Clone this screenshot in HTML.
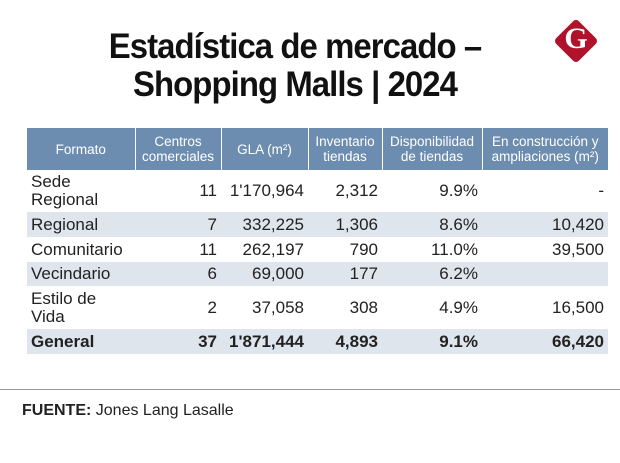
<!DOCTYPE html>
<html><head><meta charset="utf-8"><style>
body{margin:0;width:620px;height:463px;background:#fff;font-family:"Liberation Sans",sans-serif;position:relative;overflow:hidden}
#title{position:absolute;left:40px;top:28px;width:510px;text-align:center;font-weight:bold;font-size:35px;line-height:38px;color:#111;letter-spacing:-1px;transform:scaleX(0.94)}
#logo{position:absolute;left:560px;top:25px;width:32px;height:32px;background:#b0112b;transform:rotate(45deg);border-radius:4px}
#logo-g{position:absolute;left:558px;top:22px;width:36px;text-align:center;font:bold 30px "Liberation Serif",serif;color:#fff}
table{position:absolute;left:27px;top:128px;border-collapse:collapse;font-size:17px;color:#222}
th{background:#6d8db0;color:#fff;font-weight:normal;font-size:13.5px;line-height:15px;height:42px;padding:0;border-left:1px solid #fff}
th:first-child{border-left:none}
td{padding:0 4px;text-align:right;line-height:18px}
td:first-child{text-align:left}
tr.alt td{background:#dfe5ec}
#line{position:absolute;left:0;top:389px;width:620px;height:1px;background:#999}
#src{position:absolute;left:22px;top:402px;font-size:16px;color:#222}
</style></head><body>
<div id="title">Estadística de mercado –<br>Shopping Malls | 2024</div>
<div id="logo"></div>
<div id="logo-g">G</div>
<table>
<colgroup><col style="width:108px"><col style="width:86px"><col style="width:87px"><col style="width:74px"><col style="width:100px"><col style="width:126px"></colgroup>
<tr><th>Formato</th><th>Centros<br>comerciales</th><th>GLA (m²)</th><th>Inventario<br>tiendas</th><th>Disponibilidad<br>de tiendas</th><th>En construcción y<br>ampliaciones (m²)</th></tr>
<tr style="height:42px"><td>Sede<br>Regional</td><td>11</td><td>1'170,964</td><td>2,312</td><td>9.9%</td><td>-</td></tr>
<tr class="alt" style="height:25px"><td>Regional</td><td>7</td><td>332,225</td><td>1,306</td><td>8.6%</td><td>10,420</td></tr>
<tr style="height:25px"><td>Comunitario</td><td>11</td><td>262,197</td><td>790</td><td>11.0%</td><td>39,500</td></tr>
<tr class="alt" style="height:24px"><td>Vecindario</td><td>6</td><td>69,000</td><td>177</td><td>6.2%</td><td></td></tr>
<tr style="height:43px"><td>Estilo de<br>Vida</td><td>2</td><td>37,058</td><td>308</td><td>4.9%</td><td>16,500</td></tr>
<tr class="alt" style="height:25px;font-weight:bold"><td>General</td><td>37</td><td>1'871,444</td><td>4,893</td><td>9.1%</td><td>66,420</td></tr>
</table>
<div id="line"></div>
<div id="src"><b>FUENTE:</b> Jones Lang Lasalle</div>
</body></html>
